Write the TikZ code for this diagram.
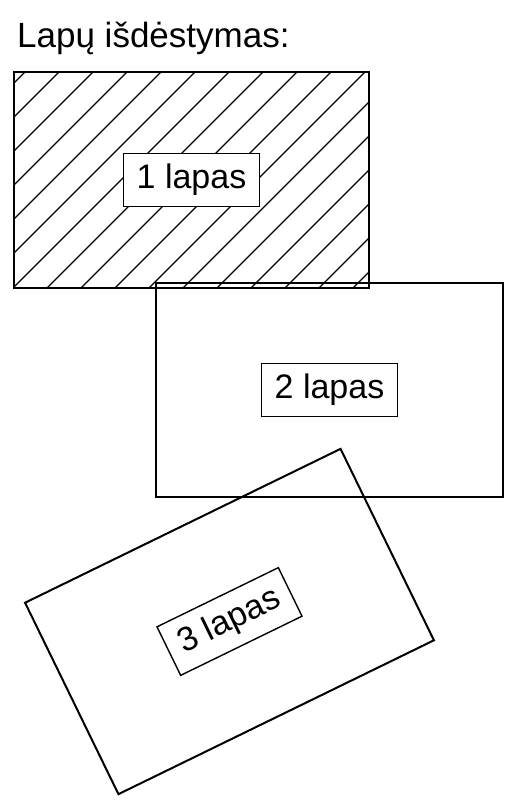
\documentclass[tikz,border=0pt]{standalone}
\usepackage{fontspec}
\setmainfont{Liberation Sans}
\usetikzlibrary{positioning}

\begin{document}
\begin{tikzpicture}[x=1pt,y=-1pt,
	sheet/.style={draw,line width=2pt,inner sep=0pt,outer sep=0pt,minimum width=355pt,minimum height=216pt},
	tag/.style={draw,line width=1.4pt,fill=white,inner sep=0pt,minimum width=136pt,minimum height=53pt,font=\fontsize{34}{40}\selectfont}]
	\useasboundingbox (0,0) rectangle (523,811);
	\node[anchor=base west,inner sep=0pt,font=\fontsize{35}{42}\selectfont] (title) at (17,47) {Lapų išdėstymas:};

	\node[sheet,minimum width=347pt,minimum height=214pt] (lapas2) at (329.5,390) {};
	\node[sheet] (lapas1) at (191.5,180) {};
	% hatching of the first sheet
	\begin{scope}
	\clip (lapas1.south west) rectangle (lapas1.north east);
	\foreach \c in {97,131,...,675}
		\draw[line width=1.1pt] (\c-50,50) -- (\c-310,310);
	\end{scope}
	\node[sheet] at (lapas1) {};
	\node[sheet,rotate=26,minimum width=351pt,minimum height=213pt] (lapas3) at (229.5,621.5) {};

	\node[tag] (tag1) at (lapas1) {1 lapas};
	\node[tag] (tag2) at (lapas2) {2 lapas};
	\node[tag,rotate=26,minimum width=135pt,minimum height=54pt] (tag3) at (lapas3) {3 lapas};
\end{tikzpicture}
\end{document}
